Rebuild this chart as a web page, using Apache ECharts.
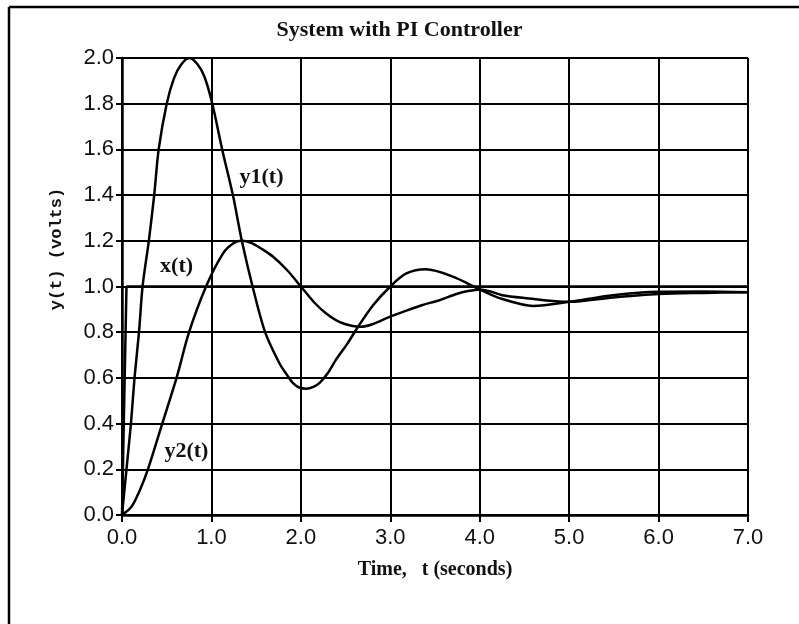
<!DOCTYPE html>
<html>
<head>
<meta charset="utf-8">
<script src="https://cdn.jsdelivr.net/npm/echarts@6/dist/echarts.min.js"></script>
<style>
  html, body { margin: 0; padding: 0; background: #fff; }
  #chart { width: 799px; height: 624px; }
</style>
</head>
<body>
<div id="chart"></div>
<script>
// Step input x(t)
const xTime = [0, 0.05, 7.0];
const xVals = [0, 1.0, 1.0];

// Output y1(t)
const y1Time = [0, 0.05, 0.10, 0.14, 0.19, 0.23, 0.30, 0.36, 0.41, 0.50, 0.58, 0.66, 0.75, 0.84, 0.92, 1.01,
  1.12, 1.24, 1.34, 1.46, 1.60, 1.76, 1.85, 1.91, 1.98, 2.06, 2.14, 2.21, 2.30, 2.39, 2.52, 2.64, 2.81, 3.00,
  3.18, 3.40, 3.70, 3.99, 4.23, 4.60, 5.00, 5.49, 6.00, 6.50, 7.00];
const y1Vals = [0, 0.20, 0.40, 0.60, 0.80, 1.00, 1.20, 1.40, 1.60, 1.80, 1.91, 1.97, 2.00, 1.975, 1.92, 1.80,
  1.60, 1.40, 1.20, 1.00, 0.80, 0.664, 0.61, 0.578, 0.558, 0.553, 0.561, 0.578, 0.62, 0.678, 0.75, 0.824, 0.919, 1.00,
  1.057, 1.075, 1.043, 0.989, 0.948, 0.915, 0.933, 0.962, 0.977, 0.978, 0.975];

// Output y2(t)
const y2Time = [0, 0.106, 0.19, 0.29, 0.45, 0.61, 0.75, 0.94, 1.13, 1.25, 1.34, 1.45, 1.56, 1.69, 1.85, 2.00,
  2.15, 2.28, 2.43, 2.58, 2.67, 2.80, 2.98, 3.15, 3.36, 3.55, 3.74, 3.87, 4.00, 4.12, 4.25, 4.50, 5.00,
  5.49, 6.00, 6.50, 7.00];
const y2Vals = [0, 0.036, 0.10, 0.20, 0.40, 0.60, 0.80, 1.00, 1.145, 1.19, 1.20, 1.19, 1.165, 1.13, 1.07, 1.00,
  0.93, 0.883, 0.845, 0.827, 0.824, 0.835, 0.865, 0.89, 0.919, 0.94, 0.967, 0.98, 0.987, 0.978, 0.962, 0.95, 0.933,
  0.952, 0.967, 0.972, 0.975];

// Curve captions (text and anchor in data units)
const captions = [
  { text: 'y1(t)', t: 1.56, v: 1.48 },
  { text: 'x(t)', t: 0.61, v: 1.09 },
  { text: 'y2(t)', t: 0.72, v: 0.28 }
];

const zip = (ts, vs) => ts.map((t, i) => [t, vs[i]]);

const serifBold = { fontFamily: 'Liberation Serif', fontWeight: 'bold', color: '#111' };

const chart = echarts.init(document.getElementById('chart'), null, { renderer: 'canvas' });

const lineStyle = { color: '#000', width: 2.5 };

chart.setOption({
  backgroundColor: '#fff',
  animation: false,
  title: {
    text: 'System with PI Controller',
    left: 'center',
    top: 14,
    textStyle: Object.assign({ fontSize: 22 }, serifBold)
  },
  grid: { left: 122, right: 51, top: 58, bottom: 109 },
  xAxis: {
    type: 'value',
    min: 0, max: 7, interval: 1,
    name: 'Time,   t (seconds)',
    nameLocation: 'middle',
    nameGap: 45,
    nameTextStyle: Object.assign({ fontSize: 20 }, serifBold),
    axisLine: { show: true, lineStyle: { color: '#000', width: 2.5 } },
    axisTick: { show: true, length: 7, lineStyle: { color: '#000', width: 2 } },
    axisLabel: {
      margin: 12,
      fontFamily: 'Liberation Sans', fontSize: 22, color: '#111',
      formatter: v => v.toFixed(1)
    },
    splitLine: { show: true, lineStyle: { color: '#000', width: 2 } }
  },
  yAxis: {
    type: 'value',
    min: 0, max: 2, interval: 0.2,
    axisLine: { show: true, lineStyle: { color: '#000', width: 2.5 } },
    axisTick: { show: true, length: 6, lineStyle: { color: '#000', width: 2 } },
    axisLabel: {
      margin: 8,
      fontFamily: 'Liberation Sans', fontSize: 22, color: '#111',
      formatter: v => v.toFixed(1)
    },
    splitLine: { show: true, lineStyle: { color: '#000', width: 2 } }
  },
  graphic: [
    // frame around the sheet
    { type: 'line', shape: { x1: 9, y1: 7, x2: 799, y2: 7 }, style: { stroke: '#000', lineWidth: 2.5 } },
    { type: 'line', shape: { x1: 9, y1: 7, x2: 9, y2: 624 }, style: { stroke: '#000', lineWidth: 2.5 } },
    {
      type: 'text', x: 57, y: 249, rotation: Math.PI / 2,
      style: {
        text: 'y(t) (volts)', fill: '#111',
        fontFamily: 'Liberation Mono', fontSize: 17, fontWeight: 'bold',
        align: 'center', verticalAlign: 'middle'
      }
    }
  ],
  series: [
    {
      name: 'x(t)', type: 'line', data: zip(xTime, xVals),
      showSymbol: false, lineStyle: lineStyle, z: 3
    },
    {
      name: 'y1(t)', type: 'line', data: zip(y1Time, y1Vals),
      smooth: 0.3, showSymbol: false, lineStyle: lineStyle, z: 3
    },
    {
      name: 'y2(t)', type: 'line', data: zip(y2Time, y2Vals),
      smooth: 0.3, showSymbol: false, lineStyle: lineStyle, z: 3,
      markPoint: {
        symbol: 'circle', symbolSize: 1,
        itemStyle: { color: 'rgba(0,0,0,0)' },
        label: Object.assign({ show: true, position: 'inside', fontSize: 22, formatter: p => p.name }, serifBold),
        data: captions.map(c => ({ name: c.text, coord: [c.t, c.v] }))
      }
    }
  ]
});
</script>
</body>
</html>
